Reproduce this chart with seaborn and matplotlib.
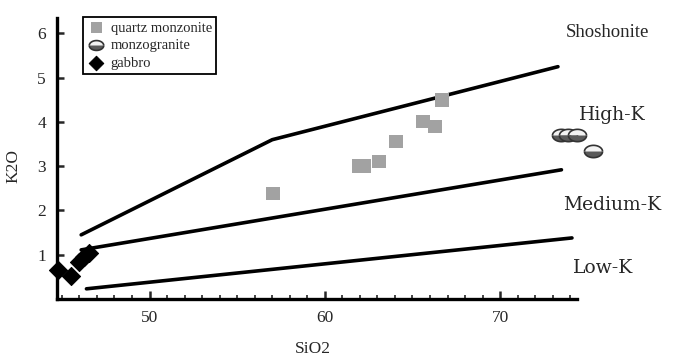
import numpy as np
import matplotlib
matplotlib.use("Agg")
import matplotlib.pyplot as plt
import seaborn as sns
from matplotlib.legend_handler import HandlerTuple

# data
qm_sio2 = [57.05, 61.95, 62.25, 63.1, 64.05, 65.6, 66.3, 66.7]
qm_k2o = [2.38, 3.0, 3.0, 3.11, 3.56, 4.01, 3.9, 4.5]

mg_sio2 = [73.45, 73.9, 74.4, 75.3]
mg_k2o = [3.7, 3.7, 3.7, 3.35]

gb_sio2 = [44.8, 45.5, 45.98, 46.26, 46.55]
gb_k2o = [0.65, 0.53, 0.84, 0.95, 1.05]

# series boundaries (Shoshonite / High-K / Medium-K / Low-K)
sho_x = [46.1, 57.0, 73.3]
sho_y = [1.45, 3.6, 5.25]
hk_x = [46.1, 73.5]
hk_y = [1.11, 2.92]
mk_x = [46.4, 74.1]
mk_y = [0.23, 1.38]

region_names = ["Shoshonite", "High-K", "Medium-K", "Low-K"]
region_x = [76.1, 76.4, 76.4, 75.85]
region_y = [6.03, 4.16, 2.13, 0.71]

sns.set_style("ticks")
plt.rcParams['font.family'] = ['Liberation Serif', 'DejaVu Serif']

fig = plt.figure(figsize=(6.73, 3.59), dpi=100)
ax = fig.add_axes([57 / 673, 60 / 359, 519.7 / 673, 281 / 359])

# boundary lines
for xs, ys in [(sho_x, sho_y), (hk_x, hk_y), (mk_x, mk_y)]:
    sns.lineplot(x=xs, y=ys, ax=ax, color='black', lw=2.6, sort=False,
                 estimator=None, legend=False)

# half-filled ellipse marker for monzogranite
t1 = np.linspace(0, np.pi, 25)
t2 = np.linspace(np.pi, 2 * np.pi, 25)
top_half = np.column_stack([np.cos(t1), 0.68 * np.sin(t1)])
bot_half = np.column_stack([np.cos(t2), 0.68 * np.sin(t2)])

sns.scatterplot(x=qm_sio2, y=qm_k2o, ax=ax, marker='s', s=95, color='#a2a2a2',
                edgecolor='none', clip_on=False, zorder=3)
h_qm = ax.collections[-1]
sns.scatterplot(x=mg_sio2, y=mg_k2o, ax=ax, marker=top_half, s=170, color='#f2f2f2',
                edgecolor='#333333', linewidth=1.2, clip_on=False, zorder=3)
h_mg_top = ax.collections[-1]
sns.scatterplot(x=mg_sio2, y=mg_k2o, ax=ax, marker=bot_half, s=170, color='#5a5a5a',
                edgecolor='#333333', linewidth=1.2, clip_on=False, zorder=3)
h_mg_bot = ax.collections[-1]
sns.scatterplot(x=gb_sio2, y=gb_k2o, ax=ax, marker='D', s=85, color='black',
                edgecolor='black', clip_on=False, zorder=4)
h_gb = ax.collections[-1]

ax.set_xlim(44.72, 74.37)
ax.set_ylim(0, 6.35)

ax.set_xticks([50, 60, 70])
ax.set_xticks(np.arange(45, 75, 1), minor=True)
ax.set_yticks([1, 2, 3, 4, 5, 6])
ax.tick_params(axis='x', which='major', direction='in', length=6, width=1.8, labelsize=12.5, pad=8)
ax.tick_params(axis='x', which='minor', direction='in', length=3, width=1.2)
ax.tick_params(axis='y', which='major', direction='in', length=5, width=1.8, labelsize=12.5, pad=8)

sns.despine(ax=ax)
for side in ['left', 'bottom']:
    ax.spines[side].set_linewidth(2.4)
    ax.spines[side].set_color('black')

ax.set_xlabel('SiO2', fontsize=12.5)
ax.set_ylabel('K2O', fontsize=12.5)
ax.xaxis.set_label_coords(0.493, -0.15)
ax.yaxis.set_label_coords(-0.068, 0.475)

for name, x, y in zip(region_names, region_x, region_y):
    fam = 'Liberation Serif' if name == 'Shoshonite' else 'DejaVu Serif'
    ax.text(x, y, name, ha='center', va='center', fontsize=13.5, family=fam)

leg = ax.legend([h_qm, (h_mg_top, h_mg_bot), h_gb], ['quartz monzonite', 'monzogranite', 'gabbro'],
                handler_map={tuple: HandlerTuple(ndivide=1, pad=0)},
                loc='upper left', bbox_to_anchor=(83 / 673, 1 - 17 / 359),
                bbox_transform=fig.transFigure, fontsize=10.5, frameon=True,
                fancybox=False, edgecolor='black', framealpha=1,
                handletextpad=0.4, labelspacing=0.3, borderpad=0.3,
                handlelength=1.2, borderaxespad=0, markerscale=0.8)
leg.get_frame().set_linewidth(1.3)

fig.savefig('out.png', dpi=100)
